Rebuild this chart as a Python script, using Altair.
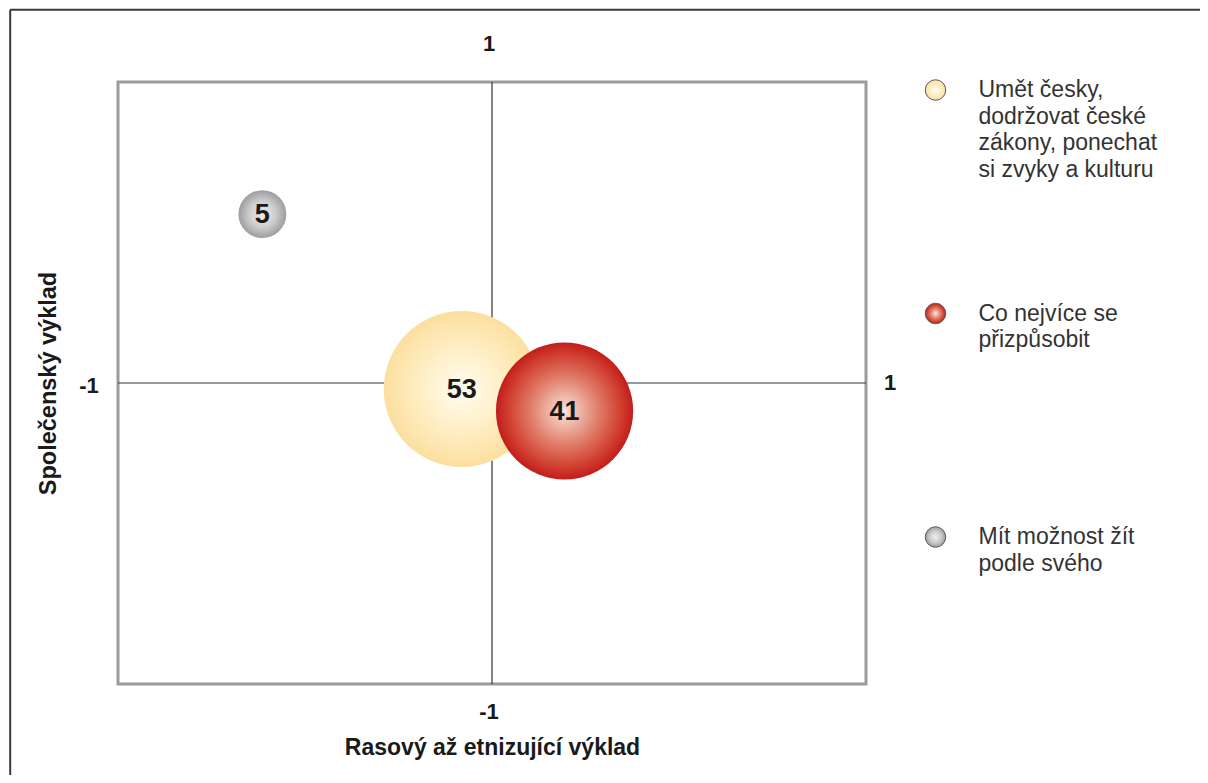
import altair as alt
import pandas as pd

# ---------------- data ----------------
categories = [
    "Umět česky, dodržovat české zákony, ponechat si zvyky a kulturu",
    "Co nejvíce se přizpůsobit",
    "Mít možnost žít podle svého",
]
legend_labels = [
    ["Umět česky,", "dodržovat české", "zákony, ponechat", "si zvyky a kulturu"],
    ["Co nejvíce se", "přizpůsobit"],
    ["Mít možnost žít", "podle svého"],
]
values = [53, 41, 5]
x_values = [-0.081, 0.194, -0.614]   # Rasový až etnizující výklad
y_values = [-0.020, -0.093, 0.561]   # Společenský výklad
axis_end_text = ["1", "-1", "-1", "1"]          # top, bottom, left, right
axis_end_x = [0, 0, -1, 1]
axis_end_y = [1, -1, 0, 0]
x_title = "Rasový až etnizující výklad"
y_title = "Společenský výklad"

# ---------------- tables ----------------
bubbles = pd.DataFrame({
    "category": categories,
    "value": values,
    "x": x_values,
    "y": y_values,
    "legend": legend_labels,
})
ends = pd.DataFrame({"text": axis_end_text, "x": axis_end_x, "y": axis_end_y})
vline = pd.DataFrame({"x": [0], "y": [-1], "y2": [1]})
hline = pd.DataFrame({"y": [0], "x": [-1], "x2": [1]})

# ---------------- styles ----------------
FONT = "Liberation Sans"
W, H = 748, 602


def grad(stops):
    return alt.RadialGradient(
        gradient="radial",
        stops=[alt.GradientStop(offset=o, color=c) for o, c in stops],
        x1=0.5, y1=0.5, r1=0, x2=0.5, y2=0.5, r2=0.5,
    )


fills = {
    categories[0]: grad([(0, "#fffcf0"), (0.45, "#fff1cc"), (1, "#fcdf9f")]),
    categories[1]: grad([(0, "#f8e4dc"), (0.5, "#e07c68"), (0.85, "#cf3a2c"), (1, "#c21d1b")]),
    categories[2]: grad([(0, "#eeeeee"), (0.55, "#cdcdcd"), (1, "#9d9d9d")]),
}

xs = alt.Scale(domain=[-1, 1], nice=False, zero=False)
ys = alt.Scale(domain=[-1, 1], nice=False, zero=False)
x_axis = alt.Axis(title=x_title, labels=False, ticks=False, domain=False, grid=False,
                  titleFont=FONT, titleFontSize=23, titleFontWeight="bold",
                  titleColor="#1a1a1a", titlePadding=52)
y_axis = alt.Axis(title=y_title, labels=False, ticks=False, domain=False, grid=False,
                  titleFont=FONT, titleFontSize=23.5, titleFontWeight="bold",
                  titleColor="#1a1a1a", titlePadding=58)


def X(field="x"):
    return alt.X(f"{field}:Q", scale=xs, axis=x_axis)


def Y(field="y", axis=None):
    return alt.Y(f"{field}:Q", scale=ys, axis=axis)


# Vega circle: radius = sqrt(size)/2  -> radius 78 px for 53
size_scale = alt.Scale(domain=[0, 53], range=[0, 24336], zero=True)

layers = []

# quadrant cross
layers.append(alt.Chart(vline).mark_rule(color="#333333", strokeWidth=1.2).encode(
    x=X("x"), y=Y("y", axis=y_axis), y2="y2:Q"))
layers.append(alt.Chart(hline).mark_rule(color="#333333", strokeWidth=1.2).encode(
    y=Y("y"), x=X("x"), x2="x2:Q"))

# bubbles (drawing order: small, 53, 41)
for i in [2, 0, 1]:
    cat = categories[i]
    layers.append(
        alt.Chart(bubbles).transform_filter(alt.datum.category == cat)
        .mark_circle(fill=fills[cat], opacity=1, fillOpacity=1, strokeWidth=0)
        .encode(x=X(), y=Y(),
                size=alt.Size("value:Q", scale=size_scale, legend=None))
    )

# bubble value labels
layers.append(
    alt.Chart(bubbles).mark_text(font=FONT, fontSize=27, fontWeight="bold",
                                 color="#1a1a1a", baseline="middle", align="center", dy=1)
    .encode(x=X(), y=Y(), text="value:Q")
)

# axis end labels
offsets = [(-3, -38), (-3, 28), (-29, 3), (24, 0)]
for i, (dx, dy) in enumerate(offsets):
    layers.append(
        alt.Chart(ends.iloc[[i]]).mark_text(font=FONT, fontSize=22, fontWeight="bold",
                                            color="#1a1a1a", baseline="middle",
                                            align="center", dx=dx, dy=dy)
        .encode(x=X(), y=Y(), text="text:N")
    )

# legend
leg_y = alt.Y("category:N", scale=alt.Scale(type="point", domain=categories,
                                            range=[8, 455], padding=0), axis=None)
for cat in categories:
    layers.append(
        alt.Chart(bubbles).transform_filter(alt.datum.category == cat)
        .mark_circle(fill=fills[cat], opacity=1, fillOpacity=1,
                     stroke="#5a5a5a", strokeWidth=1)
        .encode(x=alt.value(817.5), y=leg_y, size=alt.value(420))
    )
layers.append(
    alt.Chart(bubbles).mark_text(font=FONT, fontSize=23, color="#333333",
                                 align="left", baseline="top", lineHeight=26.5, dy=-11)
    .encode(x=alt.value(860.5), y=leg_y, text="legend")
)

# outer frame (top and left edges of the figure box)
layers.append(alt.Chart(vline).mark_rule(color="#3a3a3a", strokeWidth=2).encode(
    x=alt.value(-107.8), x2=alt.value(1200), y=alt.value(-72.2)))
layers.append(alt.Chart(vline).mark_rule(color="#3a3a3a", strokeWidth=2).encode(
    x=alt.value(-107.8), y=alt.value(-72.2), y2=alt.value(800)))

chart = (
    alt.layer(*layers)
    .resolve_scale(y="independent")
    .properties(
        width=W, height=H,
        autosize=alt.AutoSizeParams(type="none"),
        padding={"left": 110, "top": 74, "right": 1192 - 110 - W, "bottom": 767 - 74 - H},
        background="white",
    )
    .configure_view(stroke="#9b9b9b", strokeWidth=3)
)

chart.save("out.html", embed_options={"renderer": "svg", "actions": False})
